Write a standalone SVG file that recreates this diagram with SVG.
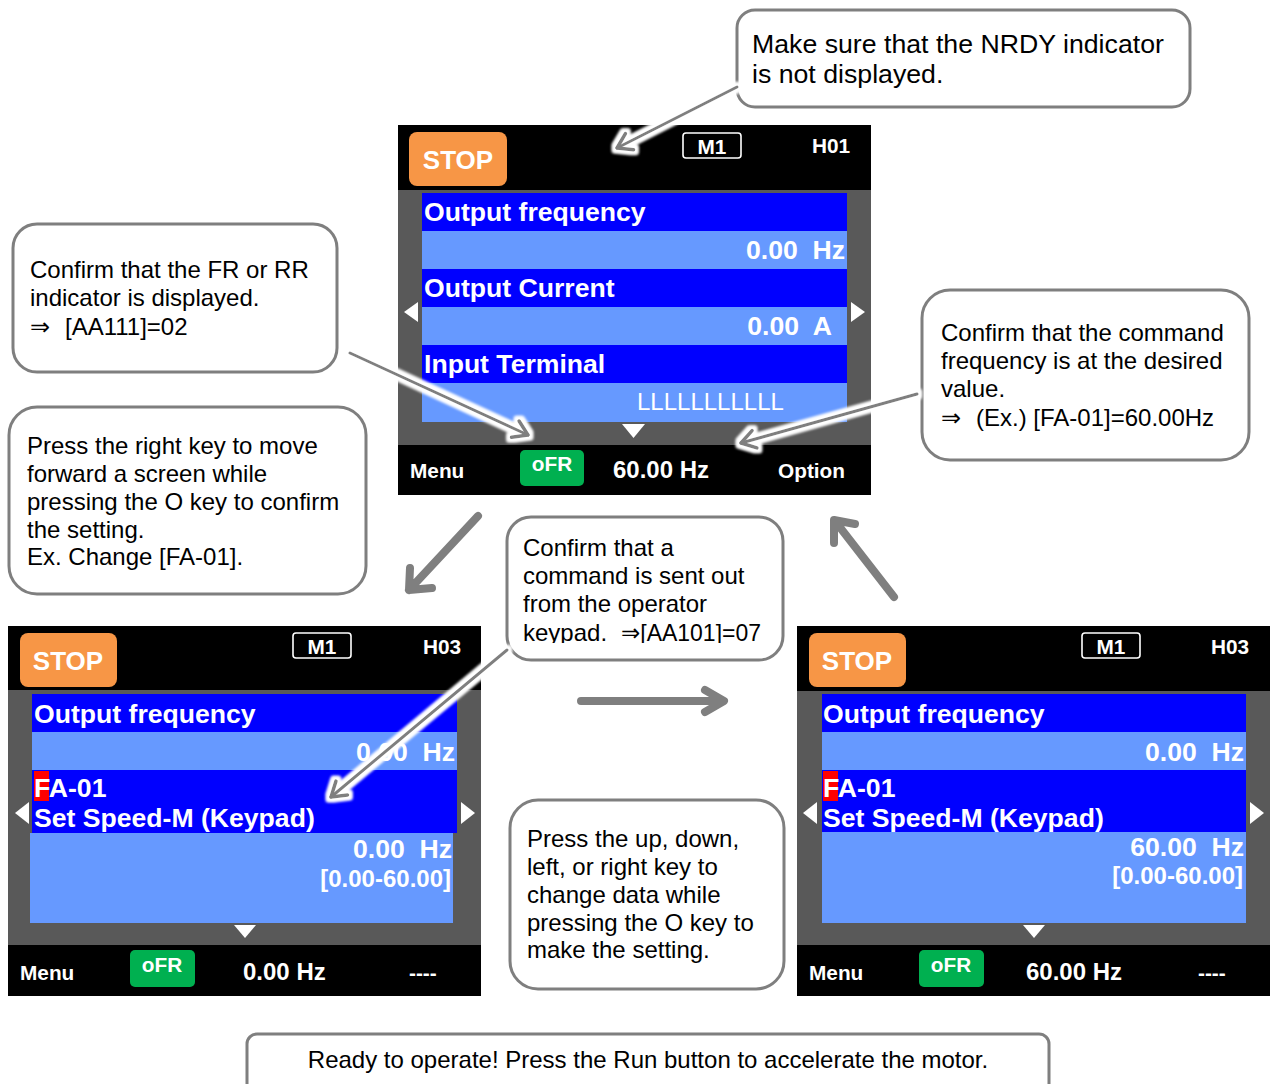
<svg xmlns="http://www.w3.org/2000/svg" width="1271" height="1084" viewBox="0 0 1271 1084">
<style>
.bg{fill:#000}
.body{fill:#595959}
.dk{fill:#0000FF}
.lt{fill:#6699FF}
.stopb{fill:#F79646}
.ofrb{fill:#00B050}
.m1b{fill:none;stroke:#fff;stroke-width:1.6}
.tri{fill:#fff}
.sc{font-family:"Liberation Sans",Arial,sans-serif;font-weight:bold;fill:#fff}
.s26{font-size:26.6px}
.s22{font-size:24px}
.s20{font-size:20.8px}
.s23{font-size:24px}
.reg{font-weight:normal}
.call{fill:#fff;stroke:#7F7F7F;stroke-width:3}
.ct{font-family:"Liberation Sans",Arial,"DejaVu Sans",sans-serif;font-size:24px;fill:#000}
.big26{font-size:26.7px}
.ptr{stroke:#7F7F7F;stroke-width:3;fill:none;stroke-linecap:round;stroke-linejoin:round}
.big{stroke:#7F7F7F;stroke-width:8;fill:none;stroke-linecap:round;stroke-linejoin:round}
</style>
<defs>
<marker id="chev" markerUnits="userSpaceOnUse" markerWidth="24" markerHeight="24" viewBox="0 0 24 24" refX="20" refY="12" orient="auto">
<path d="M6,3 L20,12 L6,21" fill="none" stroke="#7F7F7F" stroke-width="3.5" stroke-linecap="round" stroke-linejoin="round"/>
</marker>
<filter id="glow" x="-30%" y="-30%" width="160%" height="160%">
<feMorphology in="SourceAlpha" operator="dilate" radius="3" result="d"/>
<feGaussianBlur in="d" stdDeviation="1.5" result="b"/>
<feFlood flood-color="#ffffff"/>
<feComposite in2="b" operator="in" result="w"/>
<feMerge><feMergeNode in="w"/><feMergeNode in="w"/><feMergeNode in="SourceGraphic"/></feMerge>
</filter>
<clipPath id="kclip"><rect x="510" y="520" width="270" height="123"/></clipPath>
</defs>
<rect width="1271" height="1084" fill="#fff"/>

<!-- Top screen -->
<g id="screen-top">
<rect class="bg" x="398" y="125" width="473" height="370"/>
<rect class="body" x="398" y="190" width="473" height="255"/>
<rect class="dk" x="422" y="193" width="425" height="38"/>
<rect class="lt" x="422" y="231" width="425" height="38"/>
<rect class="dk" x="422" y="269" width="425" height="38"/>
<rect class="lt" x="422" y="307" width="425" height="38"/>
<rect class="dk" x="422" y="345" width="425" height="38"/>
<rect class="lt" x="422" y="383" width="425" height="39"/>
<rect class="stopb" x="409" y="132" width="98" height="54" rx="8"/>
<text class="sc" font-size="26" x="458" y="169" text-anchor="middle">STOP</text>
<rect class="m1b" x="683" y="133" width="58" height="25" rx="3"/>
<text class="sc s20" x="712" y="154" text-anchor="middle">M1</text>
<text class="sc s20" x="812" y="153">H01</text>
<text class="sc s26" x="424" y="221">Output frequency</text>
<text class="sc s26" x="845" y="259" text-anchor="end" xml:space="preserve">0.00  Hz</text>
<text class="sc s26" x="424" y="297">Output Current</text>
<text class="sc s26" x="832" y="335" text-anchor="end" xml:space="preserve">0.00  A</text>
<text class="sc s26" x="424" y="373">Input Terminal</text>
<text class="sc reg" x="637" y="410" font-size="24">LLLLLLLLLLL</text>
<polygon class="tri" points="404,312 418,302 418,322"/>
<polygon class="tri" points="865,312 851,302 851,322"/>
<polygon class="tri" points="622,424 645,424 633.5,438"/>
<rect class="ofrb" x="520" y="450" width="64" height="36" rx="5"/>
<text class="sc s20" x="552" y="471" text-anchor="middle">oFR</text>
<text class="sc s20" x="410" y="478">Menu</text>
<text class="sc s23" x="613" y="478">60.00 Hz</text>
<text class="sc s20" x="778" y="478">Option</text>
</g>

<!-- Bottom-left screen -->
<g id="screen-edit">
<rect class="bg" x="8" y="626" width="473" height="370"/>
<rect class="body" x="8" y="690" width="473" height="255"/>
<rect class="dk" x="32" y="694" width="425" height="38"/>
<rect class="lt" x="32" y="732" width="425" height="38"/>
<rect class="dk" x="32" y="770" width="425" height="63"/>
<rect class="lt" x="30" y="833" width="423" height="90"/>
<rect class="stopb" x="20" y="633" width="97" height="54" rx="8"/>
<text class="sc" font-size="26" x="68" y="670" text-anchor="middle">STOP</text>
<rect class="m1b" x="293" y="633" width="58" height="25" rx="3"/>
<text class="sc s20" x="322" y="654" text-anchor="middle">M1</text>
<text class="sc s20" x="423" y="654">H03</text>
<text class="sc s26" x="34" y="723">Output frequency</text>
<text class="sc s26" x="455" y="761" text-anchor="end" xml:space="preserve">0.00  Hz</text>
<rect x="34" y="771" width="15" height="30" fill="#FF0000"/>
<text class="sc s26" x="34" y="797">FA-01</text>
<text class="sc s26" x="34" y="827">Set Speed-M (Keypad)</text>
<text class="sc s26" x="452" y="858" text-anchor="end" xml:space="preserve">0.00  Hz</text>
<text class="sc s22" x="451" y="887" text-anchor="end">[0.00-60.00]</text>
<polygon class="tri" points="15,813 29,802 29,824"/>
<polygon class="tri" points="475,813 461,802 461,824"/>
<polygon class="tri" points="234,925 256,925 245,938"/>
<rect class="ofrb" x="130" y="950" width="65" height="37" rx="5"/>
<text class="sc s20" x="162" y="972" text-anchor="middle">oFR</text>
<text class="sc s20" x="20" y="980">Menu</text>
<text class="sc s23" x="243" y="980">0.00 Hz</text>
<text class="sc s20" x="409" y="980">----</text>
</g>

<!-- Bottom-right screen -->
<g id="screen-set">
<rect class="bg" x="797" y="626" width="473" height="370"/>
<rect class="body" x="797" y="691" width="473" height="254"/>
<rect class="dk" x="822" y="694" width="424" height="38"/>
<rect class="lt" x="822" y="732" width="424" height="38"/>
<rect class="dk" x="822" y="770" width="424" height="62"/>
<rect class="lt" x="822" y="832" width="424" height="91"/>
<rect class="stopb" x="809" y="633" width="97" height="54" rx="8"/>
<text class="sc" font-size="26" x="857" y="670" text-anchor="middle">STOP</text>
<rect class="m1b" x="1082" y="633" width="58" height="25" rx="3"/>
<text class="sc s20" x="1111" y="654" text-anchor="middle">M1</text>
<text class="sc s20" x="1211" y="654">H03</text>
<text class="sc s26" x="823" y="723">Output frequency</text>
<text class="sc s26" x="1244" y="761" text-anchor="end" xml:space="preserve">0.00  Hz</text>
<rect x="823" y="771" width="15" height="30" fill="#FF0000"/>
<text class="sc s26" x="823" y="797">FA-01</text>
<text class="sc s26" x="823" y="827">Set Speed-M (Keypad)</text>
<text class="sc s26" x="1244" y="856" text-anchor="end" xml:space="preserve">60.00  Hz</text>
<text class="sc s22" x="1243" y="884" text-anchor="end">[0.00-60.00]</text>
<polygon class="tri" points="803,813 817,802 817,824"/>
<polygon class="tri" points="1264,813 1250,802 1250,824"/>
<polygon class="tri" points="1023,925 1045,925 1034,938"/>
<rect class="ofrb" x="919" y="950" width="65" height="37" rx="5"/>
<text class="sc s20" x="951" y="972" text-anchor="middle">oFR</text>
<text class="sc s20" x="809" y="980">Menu</text>
<text class="sc s23" x="1026" y="980">60.00 Hz</text>
<text class="sc s20" x="1198" y="980">----</text>
</g>

<!-- Callouts -->
<g id="note-nrdy">
<rect class="call" x="737" y="10" width="453" height="97" rx="18"/>
<text class="ct big26" x="752" y="53">Make sure that the NRDY indicator</text>
<text class="ct big26" x="752" y="83">is not displayed.</text>
</g>
<g id="note-fr">
<rect class="call" x="13" y="224" width="324" height="148" rx="24"/>
<text class="ct" x="30" y="278">Confirm that the FR or RR</text>
<text class="ct" x="30" y="306">indicator is displayed.</text>
<text class="ct" y="335"><tspan x="30">⇒</tspan><tspan x="65">[AA111]=02</tspan></text>
</g>
<g id="note-right-key">
<rect class="call" x="9" y="407" width="357" height="187" rx="28"/>
<text class="ct" x="27" y="454">Press the right key to move</text>
<text class="ct" x="27" y="482">forward a screen while</text>
<text class="ct" x="27" y="510">pressing the O key to confirm</text>
<text class="ct" x="27" y="538">the setting.</text>
<text class="ct" x="27" y="565">Ex. Change [FA-01].</text>
</g>
<g id="note-cmd-freq">
<rect class="call" x="922" y="290" width="327" height="170" rx="28"/>
<text class="ct" x="941" y="341">Confirm that the command</text>
<text class="ct" x="941" y="369">frequency is at the desired</text>
<text class="ct" x="941" y="397">value.</text>
<text class="ct" y="426"><tspan x="941">⇒</tspan><tspan x="976">(Ex.) [FA-01]=60.00Hz</tspan></text>
</g>
<g id="note-keypad">
<rect class="call" x="507" y="517" width="276" height="143" rx="24"/>
<g clip-path="url(#kclip)">
<text class="ct" x="523" y="556">Confirm that a</text>
<text class="ct" x="523" y="584">command is sent out</text>
<text class="ct" x="523" y="612">from the operator</text>
<text class="ct" y="641"><tspan x="523">keypad.</tspan><tspan x="621" textLength="140" lengthAdjust="spacingAndGlyphs">⇒[AA101]=07</tspan></text>
</g>
</g>
<g id="note-change-data">
<rect class="call" x="510" y="800" width="274" height="189" rx="28"/>
<text class="ct" x="527" y="847">Press the up, down,</text>
<text class="ct" x="527" y="875">left, or right key to</text>
<text class="ct" x="527" y="903">change data while</text>
<text class="ct" x="527" y="931">pressing the O key to</text>
<text class="ct" x="527" y="958">make the setting.</text>
</g>
<g id="note-ready">
<rect class="call" x="247" y="1034" width="802" height="70" rx="10"/>
<text class="ct" x="648" y="1068" text-anchor="middle">Ready to operate! Press the Run button to accelerate the motor.</text>
</g>

<!-- Connectors -->
<g id="connectors">
<g filter="url(#glow)">
<line class="ptr" x1="737" y1="87" x2="617" y2="148" marker-end="url(#chev)"/>
</g>
<g filter="url(#glow)">
<line class="ptr" x1="350" y1="353" x2="528" y2="435" marker-end="url(#chev)"/>
</g>
<g filter="url(#glow)">
<line class="ptr" x1="917" y1="394" x2="741" y2="443" marker-end="url(#chev)"/>
</g>
<g filter="url(#glow)">
<line class="ptr" x1="507" y1="650" x2="331" y2="797" marker-end="url(#chev)"/>
</g>
<path class="big" d="M478,516 L409,590 M432,588 L409,590 L410,568"/>
<path class="big" d="M581,701 L723,701 M705,690 L724,701 L705,712"/>
<path class="big" d="M894,597 L835,521 M834,543 L834,520 L855,524"/>
</g>
</svg>
